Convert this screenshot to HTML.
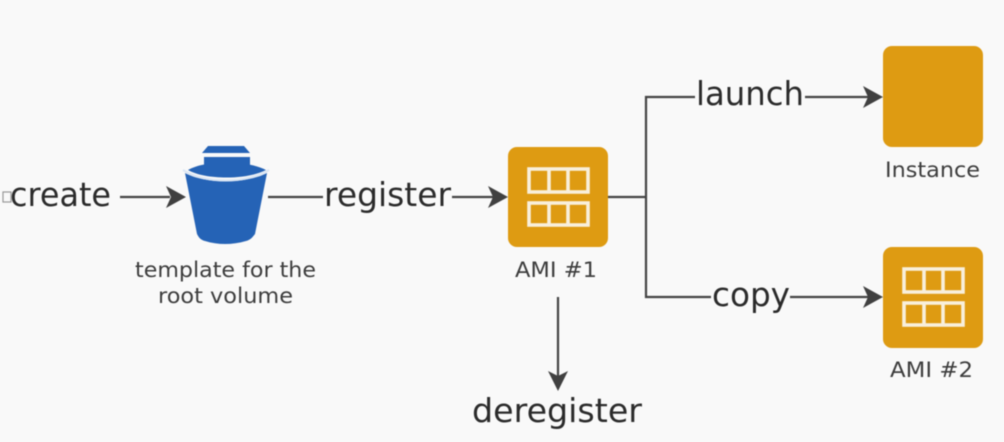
<!DOCTYPE html>
<html>
<head>
<meta charset="utf-8">
<style>
html,body{margin:0;padding:0;background:#f9f9f9;width:1004px;height:442px;overflow:hidden}
svg{display:block;filter:blur(0.45px)}
text{font-family:"DejaVu Sans","Liberation Sans",sans-serif;fill:#2b2b2b}
.lg{font-size:33px}
.sm{font-size:21px;fill:#3d3d3d}
.ln{stroke:#444;stroke-width:2.2;fill:none}
.ah{fill:#404040}
.cell{fill:none;stroke:#f8efdc;stroke-width:3.6}
</style>
</head>
<body>
<svg width="1004" height="442" viewBox="0 0 1004 442" xmlns="http://www.w3.org/2000/svg">
<rect width="1004" height="442" fill="#f9f9f9"/>

<!-- connectors -->
<path class="ln" d="M120 197H170"/>
<path class="ah" d="M186 197L166 186L171 197L166 208Z"/>
<path class="ln" d="M268 197H323"/>
<path class="ln" d="M452 197H493"/>
<path class="ah" d="M508 197L488 186L493 197L488 208Z"/>
<path class="ln" d="M608 197H646"/>
<path class="ln" d="M695 97H646V297H711"/>
<path class="ln" d="M805 97H868"/>
<path class="ah" d="M883 97L863 86L868 97L863 108Z"/>
<path class="ln" d="M790 297H868"/>
<path class="ah" d="M883 297L863 286L868 297L863 308Z"/>
<path class="ln" d="M558 297V376"/>
<path class="ah" d="M558 391L548 371L558 376L568 371Z"/>

<!-- small glyph at left edge -->
<rect x="3" y="192" width="8" height="10" fill="none" stroke="#999" stroke-width="1.2"/>

<!-- bucket -->
<path d="M208 146H244L250 153H202Z" fill="#2563b6"/>
<path d="M204 157H250V172H204Z" fill="#2563b6"/>
<path d="M188 170C205 160 247 160 266 170C247 180 205 180 188 170Z" fill="#2563b6"/>
<path d="M185 173C205 184 246 184 267 173L255 234C252 238 250 240 246 241C232 245 218 245 205 241C201 240 199 238 197 234Z" fill="#2563b6"/>
<path d="M183 170C205 184 246 184 269 170" fill="none" stroke="#dbe6f4" stroke-width="2"/>

<!-- AMI #1 -->
<rect x="508" y="147" width="100" height="100" rx="9" fill="#de9b12"/>
<g class="cell">
<rect x="529" y="169" width="59" height="23"/>
<path d="M549 169V192M568 169V192"/>
<rect x="529" y="203" width="59" height="22"/>
<path d="M549 203V225M568 203V225"/>
</g>

<!-- Instance -->
<rect x="883" y="46" width="100" height="101" rx="9" fill="#de9b12"/>

<!-- AMI #2 -->
<rect x="883" y="247" width="100" height="101" rx="9" fill="#de9b12"/>
<g class="cell">
<rect x="904" y="269" width="59" height="23"/>
<path d="M924 269V292M943 269V292"/>
<rect x="904" y="303" width="59" height="22"/>
<path d="M924 303V325M943 303V325"/>
</g>

<!-- labels -->
<text class="lg" x="10" y="206" textLength="101" lengthAdjust="spacingAndGlyphs">create</text>
<text class="lg" x="324" y="206" textLength="127" lengthAdjust="spacingAndGlyphs">register</text>
<text class="lg" x="696" y="105" textLength="108" lengthAdjust="spacingAndGlyphs">launch</text>
<text class="lg" x="712" y="306" textLength="78" lengthAdjust="spacingAndGlyphs">copy</text>
<text class="lg" x="472" y="422" textLength="170" lengthAdjust="spacingAndGlyphs">deregister</text>

<text class="sm" x="135" y="277" textLength="181" lengthAdjust="spacingAndGlyphs">template for the</text>
<text class="sm" x="158" y="303" textLength="135" lengthAdjust="spacingAndGlyphs">root volume</text>
<text class="sm" x="515" y="277" textLength="82" lengthAdjust="spacingAndGlyphs">AMI #1</text>
<text class="sm" x="885" y="177" textLength="95" lengthAdjust="spacingAndGlyphs">Instance</text>
<text class="sm" x="890" y="377" textLength="83" lengthAdjust="spacingAndGlyphs">AMI #2</text>
</svg>
</body>
</html>
